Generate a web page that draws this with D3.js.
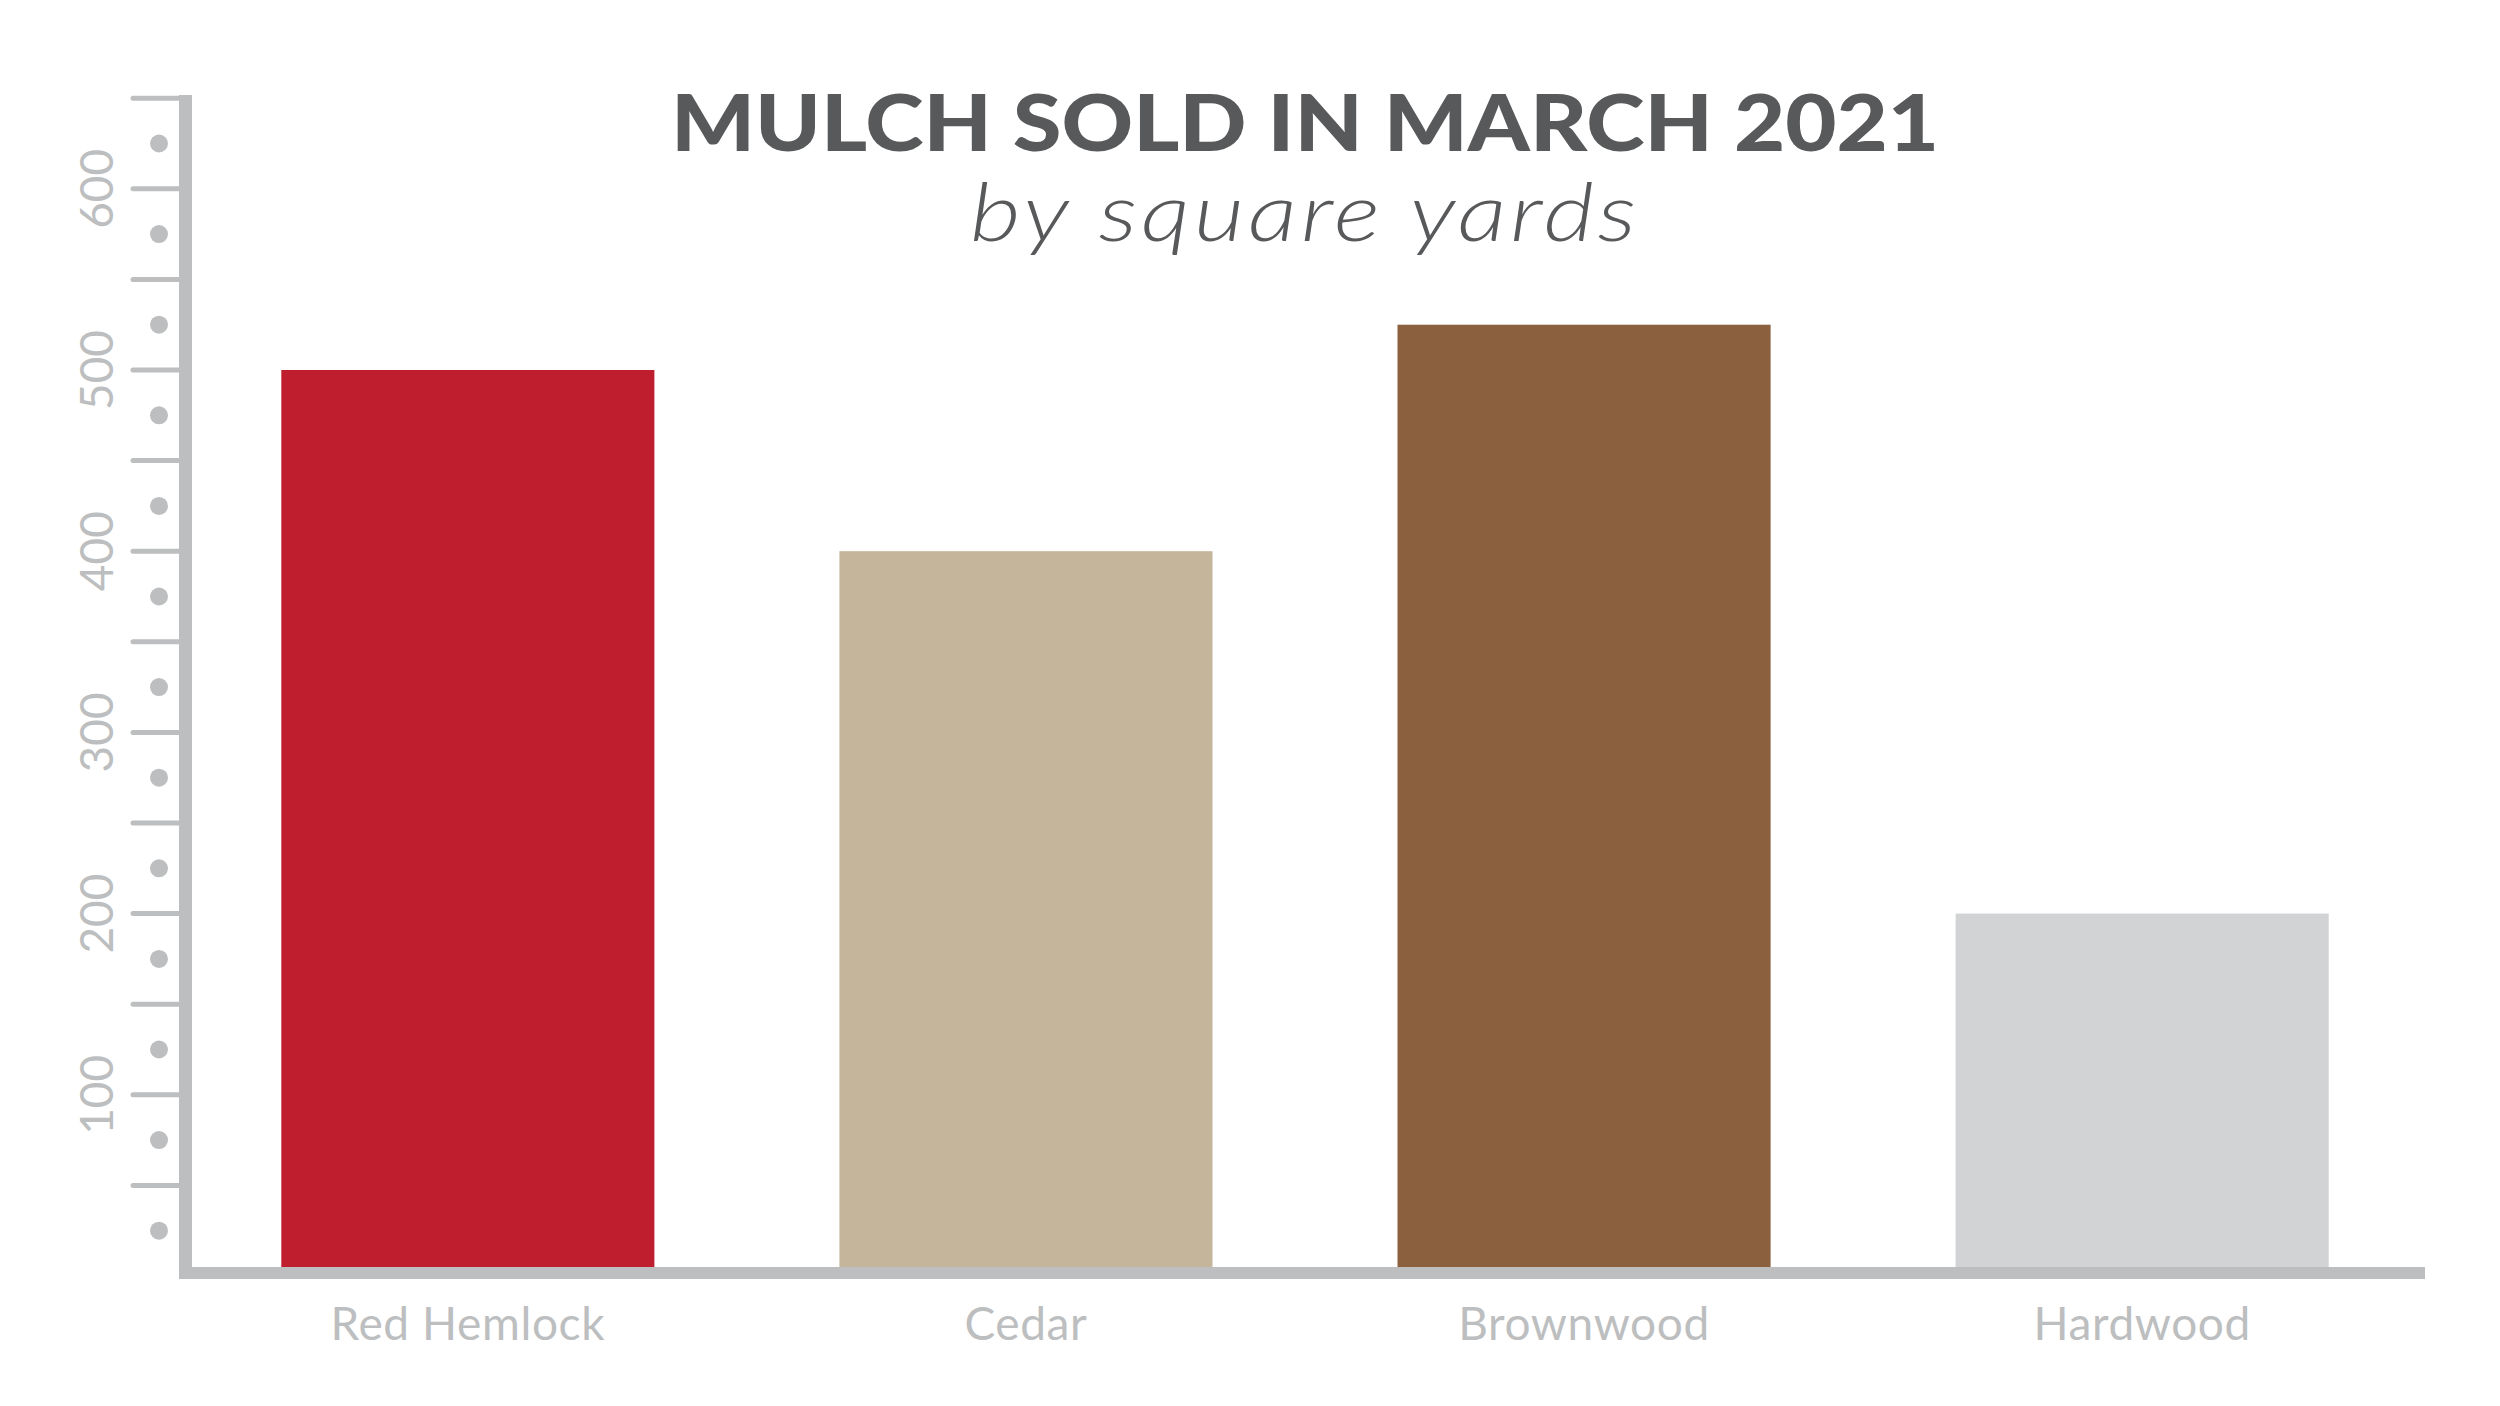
<!DOCTYPE html>
<html>
<head>
<meta charset="utf-8">
<script src="https://cdn.jsdelivr.net/npm/d3@7/dist/d3.min.js"></script>
<style>
  html, body { margin: 0; padding: 0; background: #ffffff; }
  svg { display: block; }
</style>
</head>
<body>
<svg id="chart" width="2500" height="1406"></svg>
<script>
// ---- data ----
const categories = ["Red Hemlock", "Cedar", "Brownwood", "Hardwood"];
const values = [500, 400, 525, 200];
const tickLabels = [100, 200, 300, 400, 500, 600];
const majorTicks = [50, 100, 150, 200, 250, 300, 350, 400, 450, 500, 550, 600, 650];
const minorDots = [25, 75, 125, 175, 225, 275, 325, 375, 425, 475, 525, 575, 625];
const titleText = "MULCH SOLD IN MARCH 2021";
const subtitleText = "by square yards";

// ---- styles ----
const barColors = ["#be1e2d", "#c4b59b", "#8b603e", "#d1d3d4"];
const axisColor = "#bcbec0";
const labelColor = "#bcbec0";
const titleColor = "#58595b";

const svg = d3.select("#chart");

const y = d3.scaleLinear().domain([0, 650]).range([1276, 98.2]);
const x = d3.scaleBand().domain(categories).range([192, 2418])
  .paddingInner(0.3315).paddingOuter(0.16);

// bars
svg.append("g").selectAll("rect")
  .data(values)
  .join("rect")
  .attr("x", (d, i) => x(categories[i]))
  .attr("width", x.bandwidth())
  .attr("y", d => y(d))
  .attr("height", d => y(0) - y(d))
  .attr("fill", (d, i) => barColors[i]);

// major ticks
svg.append("g").selectAll("line")
  .data(majorTicks)
  .join("line")
  .attr("x1", 133).attr("x2", 185)
  .attr("y1", d => y(d)).attr("y2", d => y(d))
  .attr("stroke", axisColor).attr("stroke-width", 5)
  .attr("stroke-linecap", "round");

// minor dots
svg.append("g").selectAll("circle")
  .data(minorDots)
  .join("circle")
  .attr("cx", 159).attr("cy", d => y(d)).attr("r", 9)
  .attr("fill", axisColor);

// vertical axis line
svg.append("rect")
  .attr("x", 179).attr("y", 95)
  .attr("width", 13).attr("height", 1279 - 95)
  .attr("fill", axisColor);

// horizontal axis line
svg.append("rect")
  .attr("x", 179).attr("y", 1267)
  .attr("width", 2425 - 179).attr("height", 12)
  .attr("fill", axisColor);

// y tick labels (rotated)
svg.append("g").selectAll("text")
  .data(tickLabels)
  .join("text")
  .attr("transform", d => `translate(113,${y(d)}) rotate(-90)`)
  .attr("text-anchor", "middle")
  .attr("font-family", "Lato, 'Open Sans', sans-serif")
  .attr("font-size", 46)
  .attr("fill", labelColor)
  .text(d => d);

// x category labels
svg.append("g").selectAll("text")
  .data(categories)
  .join("text")
  .attr("x", d => x(d) + x.bandwidth() / 2)
  .attr("y", 1340)
  .attr("text-anchor", "middle")
  .attr("font-family", "Lato, 'Open Sans', sans-serif")
  .attr("font-size", 46)
  .attr("letter-spacing", 0.6)
  .attr("fill", labelColor)
  .text(d => d);

// title
svg.append("text")
  .attr("x", 1305).attr("y", 151)
  .attr("text-anchor", "middle")
  .attr("font-family", "Lato, 'Open Sans', sans-serif")
  .attr("font-weight", 900)
  .attr("font-size", 79)
  .attr("fill", titleColor)
  .attr("textLength", 1268)
  .attr("lengthAdjust", "spacingAndGlyphs")
  .text(titleText);

// subtitle
svg.append("text")
  .attr("x", 1305).attr("y", 241)
  .attr("text-anchor", "middle")
  .attr("font-family", "Lato, 'Open Sans', sans-serif")
  .attr("font-weight", 300)
  .attr("font-style", "italic")
  .attr("font-size", 80)
  .attr("letter-spacing", 3)
  .attr("fill", titleColor)
  .attr("textLength", 670)
  .attr("lengthAdjust", "spacingAndGlyphs")
  .text(subtitleText);
</script>
</body>
</html>
